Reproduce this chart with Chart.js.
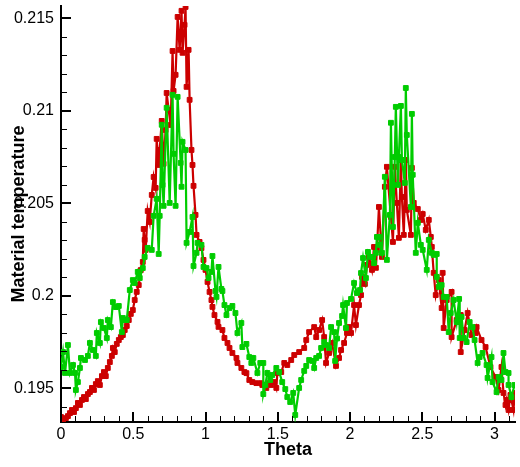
<!DOCTYPE html>
<html><head><meta charset="utf-8">
<script src="https://cdn.jsdelivr.net/npm/chart.js@4/dist/chart.umd.min.js"></script>
<style>html,body{margin:0;padding:0;background:#fff;overflow:hidden}#wrap{width:520px;height:467px;position:relative}</style>
</head><body><div id="wrap"><canvas id="c"></canvas></div>
<script>
const redTheta = [0.000,0.014,0.034,0.048,0.062,0.076,0.090,0.103,0.117,0.131,
0.145,0.159,0.172,0.186,0.200,0.214,0.228,0.241,0.255,0.269,
0.283,0.297,0.310,0.324,0.338,0.352,0.359,0.372,0.386,0.400,
0.414,0.428,0.441,0.455,0.469,0.483,0.497,0.510,0.524,0.538,
0.552,0.566,0.572,0.579,0.586,0.600,0.614,0.628,0.641,0.655,
0.662,0.676,0.683,0.697,0.710,0.724,0.731,0.745,0.759,0.772,
0.779,0.793,0.807,0.821,0.834,0.841,0.855,0.862,0.869,0.883,
0.890,0.903,0.910,0.917,0.931,0.938,0.959,0.972,0.986,1.000,
1.014,1.028,1.041,1.048,1.062,1.083,1.090,1.117,1.131,1.152,
1.166,1.186,1.214,1.221,1.248,1.269,1.283,1.303,1.324,1.352,
1.386,1.393,1.421,1.441,1.455,1.476,1.490,1.497,1.524,1.545,
1.566,1.593,1.614,1.648,1.683,1.697,1.717,1.752,1.766,1.786,
1.807,1.821,1.834,1.855,1.876,1.903,1.924,1.938,1.959,1.979,
1.993,2.007,2.028,2.041,2.062,2.076,2.083,2.103,2.117,2.131,
2.152,2.166,2.179,2.186,2.200,2.221,2.241,2.255,2.283,2.297,
2.310,2.324,2.338,2.352,2.359,2.372,2.386,2.393,2.421,2.428,
2.441,2.469,2.490,2.503,2.524,2.545,2.559,2.566,2.579,2.593,
2.614,2.634,2.641,2.648,2.669,2.703,2.703,2.738,2.766,2.766,
2.793,2.814,2.841,2.869,2.876,2.910,2.938,
2.972,3.007,3.028,3.048,3.062,3.076,3.083,3.097,3.110,3.117,3.131,3.140];
const redTemp = [0.19345,0.19329,0.19339,0.19350,0.19366,0.19383,0.19372,0.19393,0.19421,0.19410,
0.19437,0.19453,0.19442,0.19469,0.19480,0.19502,0.19491,0.19523,0.19539,0.19518,
0.19566,0.19588,0.19566,0.19610,0.19642,0.19675,0.19718,0.19696,0.19740,0.19761,
0.19777,0.19788,0.19815,0.19837,0.19869,0.19902,0.19923,0.19977,0.20021,0.20058,
0.20139,0.20183,0.20361,0.20302,0.20248,0.20458,0.20399,0.20545,0.20642,0.20583,
0.20848,0.20707,0.20788,0.20945,0.20713,0.20896,0.21096,0.21004,0.20923,0.21323,
0.21107,0.21194,0.21507,0.21329,0.21540,0.21313,0.21464,0.21561,0.21129,0.21329,
0.21059,0.20788,0.20707,0.20594,0.20437,0.20329,0.20291,0.20258,0.20194,0.20140,
0.20075,0.20021,0.19977,0.19940,0.19896,0.19859,0.19832,0.19815,0.19772,0.19745,
0.19718,0.19691,0.19664,0.19637,0.19610,0.19588,0.19582,0.19545,0.19534,0.19528,
0.19528,0.19518,0.19502,0.19528,0.19518,0.19534,0.19502,0.19583,0.19588,0.19637,
0.19626,0.19653,0.19680,0.19696,0.19718,0.19761,0.19804,0.19831,0.19777,0.19815,
0.19869,0.19777,0.19637,0.19691,0.19745,0.19621,0.19664,0.19707,0.19745,0.19799,
0.19831,0.19799,0.19950,0.19842,0.19950,0.20004,0.20102,0.20064,0.20167,0.20210,
0.20140,0.20264,0.20151,0.20248,0.20480,0.20210,0.20589,0.20697,0.20426,0.20291,
0.20697,0.20502,0.20313,0.20734,0.20534,0.20329,0.20734,0.20464,0.20329,0.20691,
0.20502,0.20469,0.20410,0.20442,0.20356,0.20410,0.20318,0.20264,0.20124,0.20004,
0.20085,0.19934,0.20124,0.19826,0.19977,0.20021,0.19777,0.19869,0.19896,0.19696,
0.19815,0.19907,0.19788,0.19799,0.19831,0.19761,0.19723,
0.19615,0.19561,0.19491,0.19615,0.19475,0.19410,0.19437,0.19383,0.19464,0.19437,0.19383,0.19475];

const greenTheta = [0.000,0.014,0.028,0.048,0.062,0.083,0.097,0.103,0.117,0.131,
0.138,0.166,0.186,0.200,0.221,0.241,0.248,0.269,0.276,0.297,
0.317,0.324,0.345,0.359,0.379,0.400,0.421,0.428,0.441,0.455,
0.476,0.497,0.510,0.531,0.545,0.566,0.579,0.600,0.628,0.641,
0.662,0.676,0.683,0.697,0.703,0.710,0.731,0.752,0.772,0.779,
0.793,0.807,0.828,0.834,0.841,0.862,0.869,0.890,0.910,0.917,
0.938,0.945,0.972,0.986,1.007,1.021,1.041,1.048,1.069,1.076,
1.090,1.110,1.117,1.131,1.145,1.166,1.186,1.207,1.221,1.248,
1.255,1.283,1.303,1.317,1.331,1.359,1.379,1.400,1.400,1.414,
1.428,1.448,1.462,1.490,1.510,1.531,1.552,1.566,1.586,1.607,
1.621,1.648,1.662,1.683,1.697,1.717,1.738,1.752,1.766,1.786,
1.800,1.821,1.834,1.855,1.869,1.890,1.897,1.910,1.924,1.945,
1.952,1.972,1.979,2.007,2.028,2.048,2.069,2.076,2.090,2.110,
2.124,2.145,2.166,2.179,2.186,2.200,2.207,2.221,2.241,2.255,
2.276,2.283,2.297,2.310,2.317,2.331,2.338,2.352,2.359,2.379,
2.386,2.393,2.421,2.428,2.434,2.455,2.469,2.490,2.503,2.531,
2.545,2.566,2.579,2.600,2.600,2.614,2.634,2.648,2.669,2.683,
2.697,2.717,2.738,2.755,2.759,2.772,2.786,2.807,2.828,2.848,
2.862,2.883,2.897,2.917,2.945,2.952,2.979,2.986,3.014,3.028,
3.048,3.062,3.076,3.097,3.097,3.117,3.138];
const greenTemp = [0.19615,0.19696,0.19583,0.19734,0.19583,0.19626,0.19583,0.19491,0.19534,0.19610,
0.19664,0.19653,0.19675,0.19745,0.19707,0.19675,0.19799,0.19745,0.19858,0.19826,
0.19772,0.19869,0.19831,0.19966,0.19939,0.19945,0.19804,0.19880,0.19869,0.19869,
0.20031,0.20085,0.20069,0.20129,0.20096,0.20150,0.20210,0.20259,0.20248,0.20432,
0.20524,0.20226,0.20432,0.20924,0.20599,0.20486,0.21016,0.20502,0.21086,0.20767,
0.20486,0.21075,0.20718,0.20589,0.20832,0.20788,0.20286,0.20345,0.20426,0.20161,
0.20232,0.20286,0.20275,0.20156,0.20150,0.20096,0.20129,0.20215,0.20026,0.19994,
0.20156,0.20037,0.20026,0.19950,0.19896,0.19934,0.19945,0.19907,0.19799,0.19853,
0.19723,0.19740,0.19669,0.19637,0.19664,0.19583,0.19637,0.19637,0.19469,0.19518,
0.19583,0.19545,0.19572,0.19610,0.19588,0.19534,0.19496,0.19453,0.19426,0.19475,
0.19356,0.19502,0.19545,0.19594,0.19621,0.19653,0.19648,0.19610,0.19664,0.19675,
0.19718,0.19750,0.19734,0.19718,0.19831,0.19804,0.19648,0.19769,0.19853,0.19891,
0.19950,0.19826,0.19961,0.19983,0.20069,0.20015,0.20031,0.20123,0.20204,0.20096,
0.20237,0.20210,0.20177,0.20232,0.20318,0.20318,0.20275,0.20232,0.20643,0.20194,
0.20437,0.20935,0.20372,0.20750,0.21021,0.20599,0.20750,0.21026,0.20734,0.20610,
0.21123,0.20869,0.20480,0.20983,0.20654,0.20232,0.20394,0.20275,0.20248,0.20140,
0.20302,0.20232,0.20221,0.20226,0.20102,0.20048,0.20058,0.19994,0.19994,0.19804,
0.19907,0.19977,0.19858,0.19983,0.19772,0.19886,0.19772,0.19750,0.19858,0.19831,
0.19761,0.19637,0.19669,0.19691,0.19626,0.19556,0.19669,0.19534,0.19480,0.19561,
0.19545,0.19691,0.19588,0.19583,0.19518,0.19453,0.19518];

const xMajorTicks = [0, 0.5, 1, 1.5, 2, 2.5, 3];
const yMajorTicks = [0.195, 0.2, 0.205, 0.21, 0.215];
const xRange = [0, 3.14159];
const yRange = [0.19318, 0.21566];
const xMinorStep = 0.1;
const yMinorStep = 0.001;

function toPoints(xs, ys) {
  const n = Math.min(xs.length, ys.length);
  const out = [];
  for (let i = 0; i < n; i++) out.push({x: xs[i], y: ys[i]});
  return out;
}
function stepTicks(lo, hi, step) {
  const out = [];
  const start = Math.ceil(lo / step - 1e-9);
  const end = Math.floor(hi / step + 1e-9);
  for (let i = start; i <= end; i++) out.push(+(i * step).toFixed(6));
  return out;
}
function isMajor(v, majors) { return majors.some(m => Math.abs(m - v) < 1e-7); }

const FONT = '"Liberation Sans", Arial, Helvetica, sans-serif';

const innerTicks = {
  id: 'innerTicks',
  afterDraw(chart) {
    const ctx = chart.ctx;
    const {left, bottom} = chart.chartArea;
    const xs = chart.scales.x, ys = chart.scales.y;
    ctx.save();
    ctx.strokeStyle = '#000';
    xs.ticks.forEach(t => {
      const major = isMajor(t.value, xMajorTicks);
      const px = Math.round(xs.getPixelForValue(t.value)) + (major ? 0 : 0.5);
      ctx.lineWidth = major ? 2 : 1;
      ctx.beginPath();
      ctx.moveTo(px, bottom);
      ctx.lineTo(px, bottom - (major ? 10 : 6));
      ctx.stroke();
    });
    ys.ticks.forEach(t => {
      const major = isMajor(t.value, yMajorTicks);
      const py = Math.round(ys.getPixelForValue(t.value)) + (major ? 0 : 0.5);
      ctx.lineWidth = major ? 2 : 1;
      ctx.beginPath();
      ctx.moveTo(left, py);
      ctx.lineTo(left + (major ? 10 : 6), py);
      ctx.stroke();
    });
    ctx.restore();
  }
};

new Chart(document.getElementById('c'), {
  type: 'scatter',
  data: {
    datasets: [
      {
        label: 'green',
        data: toPoints(greenTheta, greenTemp),
        showLine: true,
        borderColor: '#00cc00',
        backgroundColor: '#00cc00',
        borderWidth: 2.2,
        pointStyle: 'rect',
        pointRadius: 3.4,
        pointBorderWidth: 1,
        pointBorderColor: '#00cc00',
        pointBackgroundColor: '#00cc00',
        order: 0
      },
      {
        label: 'red',
        data: toPoints(redTheta, redTemp),
        showLine: true,
        borderColor: '#cc0000',
        backgroundColor: '#cc0000',
        borderWidth: 2.2,
        pointStyle: 'rect',
        pointRadius: 3.4,
        pointBorderWidth: 1,
        pointBorderColor: '#cc0000',
        pointBackgroundColor: '#cc0000',
        order: 1
      }
    ]
  },
  options: {
    responsive: true,
    maintainAspectRatio: false,
    animation: false,
    devicePixelRatio: 1,
    layout: {padding: {top: 6, right: 3.5, left: 0, bottom: 0}},
    plugins: {legend: {display: false}, tooltip: {enabled: false}},
    scales: {
      x: {
        type: 'linear',
        min: xRange[0], max: xRange[1],
        afterBuildTicks: s => { s.ticks = stepTicks(xRange[0], xRange[1], xMinorStep).map(v => ({value: v})); },
        afterFit: s => { s.height = 45; s.paddingLeft = 0; s.paddingRight = 0; },
        grid: {display: false, drawTicks: false},
        border: {display: true, color: '#000', width: 2},
        ticks: {
          autoSkip: false, maxRotation: 0, padding: 3,
          color: '#000',
          font: {family: FONT, size: 16},
          callback: v => isMajor(v, xMajorTicks) ? String(+v.toFixed(1)) : ''
        },
        title: {display: true, text: 'Theta', color: '#000',
          font: {family: FONT, size: 18, weight: 'bold'}, padding: {top: 0, bottom: 6}}
      },
      y: {
        type: 'linear',
        min: yRange[0], max: yRange[1],
        afterBuildTicks: s => { s.ticks = stepTicks(yRange[0], yRange[1], yMinorStep).map(v => ({value: v})); },
        afterFit: s => { s.width = 61; s.paddingTop = 0; s.paddingBottom = 0; },
        grid: {display: false, drawTicks: false},
        border: {display: true, color: '#000', width: 2},
        ticks: {
          autoSkip: false, padding: 7,
          color: '#000',
          font: {family: FONT, size: 16},
          callback: v => isMajor(v, yMajorTicks) ? String(+v.toFixed(3)) : ''
        },
        title: {display: true, text: 'Material temperature', color: '#000',
          font: {family: FONT, size: 18, weight: 'bold'}, padding: {top: 8, bottom: 0}}
      }
    }
  },
  plugins: [innerTicks]
});
</script>
</body></html>
